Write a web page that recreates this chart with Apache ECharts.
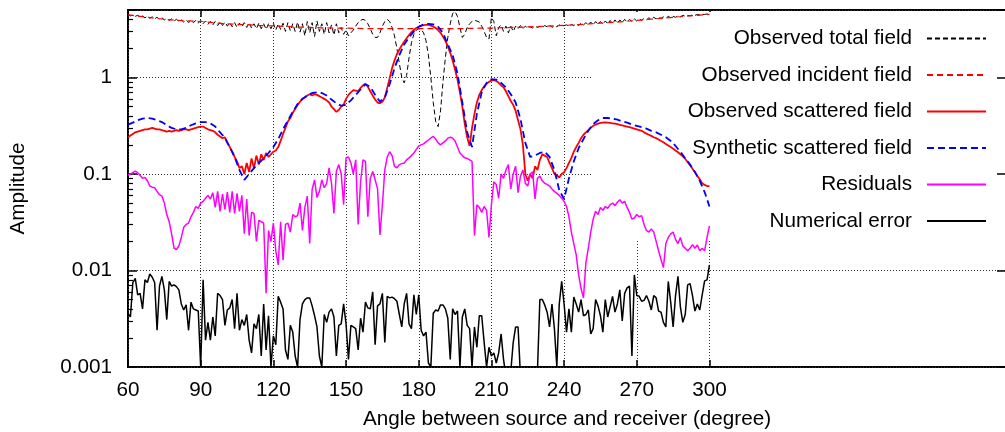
<!DOCTYPE html>
<html><head><meta charset="utf-8">
<script src="https://cdn.jsdelivr.net/npm/echarts@6/dist/echarts.min.js"></script>
<style>html,body{margin:0;padding:0;background:#fff}#c{width:1005px;height:432px}</style>
</head><body><div id="c"></div><script>
// ---- data (angles in degrees, values are amplitudes) ----
const seriesNames = ['Observed total field','Observed incident field','Observed scattered field','Synthetic scattered field','Residuals','Numerical error'];
const xTickLabels = [60, 90, 120, 150, 180, 210, 240, 270, 300];
const yTickLabels = [0.001, 0.01, 0.1, 1];
const yMinorTicks = [0.002,0.003,0.004,0.005,0.006,0.007,0.008,0.009,0.02,0.03,0.04,0.05,0.06,0.07,0.08,0.09,0.2,0.3,0.4,0.5,0.6,0.7,0.8,0.9,2,3,4];

// 1-degree sampled series start at 60 deg
const totalField = [
4.5,4.35,4.45,4.3,4.4,4.25,4.35,4.15,4.3,4.1,
4.25,4.05,4.2,4.0,4.15,3.95,4.1,3.9,4.05,3.85,
4.0,3.8,3.95,3.75,3.95,3.7,3.9,3.7,3.9,3.65,
3.9,3.6,3.85,3.55,3.8,3.5,3.8,3.45,3.75,3.45,
3.75,3.4,3.7,3.35,3.7,3.3,3.65,3.35,3.7,3.3,
3.7,3.25,3.6,3.2,3.65,3.2,3.6,3.15,3.6,3.2,
3.65,3.1,3.6,3.15,3.65,3.0,3.7,3.05,3.6,3.0,
3.75,2.95,3.6,2.7,3.8,2.9,3.7,2.65,3.85,3.0,
3.6,2.8,3.7,2.9,3.5,2.75,3.6,2.9,3.3,2.8,
3.1,2.7,2.9,3.1,3.4,3.7,3.9,4.0,3.9,3.6,
3.2,2.8,2.6,2.6,2.9,3.4,3.8,4.0,3.8,3.3,
2.7,2.0,1.4,1.0,0.88,1.05,1.6,2.3,2.8,3.1,
3.2,3.15,2.9,2.4,1.7,1.0,0.55,0.35,0.31,0.45,
0.9,1.6,2.6,3.6,4.6,4.8,4.3,3.3,2.6,2.8,
3.3,3.6,3.8,3.9,3.85,3.75,3.4,3.0,2.6,2.5,
4.2,3.8,2.7,3.3,3.5,3.0,3.4,2.9,3.4,3.0,
3.4,3.2,3.45,3.2,3.4,3.25,3.35,3.25,3.4,3.3,
3.38,3.3,3.45,3.35,3.5,3.3,3.45,3.35,3.5,3.4,
3.45,3.5,3.42,3.55,3.45,3.6,3.45,3.65,3.5,3.7,
3.5,3.75,3.5,3.8,3.55,3.8,3.55,3.85,3.6,3.9,
3.6,3.95,3.65,3.95,3.7,4.0,3.75,4.0,3.8,4.05,
3.85,4.05,3.9,4.1,3.95,4.15,4.0,4.2,4.05,4.2,
4.1,4.25,4.1,4.3,4.15,4.3,4.2,4.35,4.25,4.4,
4.3,4.4,4.35,4.45,4.4,4.5,4.45,4.5,4.5,4.55,
4.5];

// 5-degree sampled, starts at 60 deg
const incidentField = [4.45,4.3,4.15,4.0,3.9,3.85,3.8,3.7,3.6,3.55,3.5,3.45,3.42,3.38,3.33,3.3,3.27,3.25,3.24,3.22,3.2,3.2,3.2,3.2,3.2,3.2,3.2,3.2,3.22,3.24,3.25,3.28,3.3,3.34,3.38,3.42,3.46,3.52,3.58,3.65,3.72,3.8,3.9,4.0,4.1,4.2,4.3,4.4,4.5];

const scatteredField = [
.24,.25,.26,.27,.275,.28,.285,.29,.29,.295,
.30,.295,.29,.29,.285,.28,.275,.28,.275,.28,
.285,.28,.285,.29,.29,.285,.29,.295,.30,.305,
.31,.31,.30,.29,.285,.28,.27,.255,.245,.235,
.24,.21,.19,.17,.15,.135,.115,.12,.1,.13,
.105,.145,.115,.155,.125,.16,.14,.165,.15,.16,
.17,.175,.19,.22,.26,.3,.35,.38,.43,.47,
.52,.56,.6,.62,.65,.67,.65,.67,.66,.64,
.62,.6,.58,.55,.5,.47,.44,.46,.5,.52,
.6,.66,.7,.74,.73,.72,.78,.83,.86,.8,
.72,.65,.59,.55,.54,.56,.62,.78,.98,1.25,
1.5,1.75,1.95,2.15,2.35,2.55,2.75,2.95,3.1,3.25,
3.35,3.42,3.48,3.5,3.5,3.45,3.38,3.25,3.1,2.9,
2.65,2.4,2.1,1.8,1.5,1.2,.95,.7,.5,.33,
.24,.195,.3,.42,.55,.66,.74,.81,.86,.9,
.93,.94,.92,.88,.83,.79,.72,.64,.57,.52,
.45,.36,.29,.2,.1,.085,.1,.09,.12,.11,
.14,.16,.155,.15,.13,.115,.1,.097,.092,.1,
.104,.115,.13,.147,.17,.19,.21,.235,.255,.27,
.285,.3,.315,.325,.333,.338,.34,.342,.34,.338,
.335,.332,.328,.323,.318,.314,.31,.305,.3,.295,
.29,.285,.28,.27,.262,.255,.248,.24,.235,.228,
.22,.213,.205,.197,.19,.183,.175,.168,.16,.152,
.143,.133,.123,.113,.104,.095,.088,.08,.077,.075,
.075];

// 2-degree sampled, starts at 60 deg
const syntheticField = [
.324,.34,.36,.375,.38,.375,.36,.345,.32,.30,
.29,.29,.30,.32,.335,.345,.345,.335,.31,.27,
.237,.19,.15,.11,.087,.1,.115,.13,.145,.165,
.19,.23,.29,.36,.44,.53,.6,.65,.69,.70,
.69,.65,.59,.54,.51,.52,.58,.66,.75,.85,
.8,.66,.56,.62,.85,1.25,1.7,2.2,2.6,3.0,
3.35,3.55,3.6,3.55,3.35,2.9,2.2,1.7,1.1,.55,
.27,.19,.42,.7,.88,.96,.95,.88,.79,.67,
.55,.37,.21,.15,.155,.165,.17,.15,.11,.068,
.055,.09,.135,.185,.23,.28,.33,.36,.38,.38,
.375,.365,.35,.34,.325,.315,.305,.295,.28,.27,
.255,.24,.22,.195,.17,.145,.125,.105,.085,.065,
.046];

const residuals = [
.098,.1,.103,.107,.103,.097,.09,.092,.085,.075,
.073,.072,.066,.061,.059,.05,.038,.032,.024,.017,
.0165,.018,.022,.028,.03,.031,.036,.04,.046,.044,
.05,.052,.056,.06,.055,.064,.045,.066,.041,.062,
.043,.065,.04,.066,.039,.063,.041,.06,.024,.055,
.023,.04,.039,.02,.033,.032,.031,.0058,.026,.02,
.031,.016,.0114,.032,.0128,.03,.031,.025,.038,.036,
.037,.05,.026,.045,.059,.019,.069,.087,.057,.066,
.087,.072,.08,.116,.08,.039,.106,.125,.1,.048,
.147,.15,.13,.1,.14,.03,.083,.14,.135,.036,
.09,.106,.087,.07,.0234,.048,.11,.15,.17,.155,
.12,.116,.125,.128,.13,.14,.147,.155,.165,.18,
.195,.2,.205,.215,.225,.236,.245,.23,.21,.2,
.21,.22,.235,.24,.235,.22,.19,.165,.155,.147,
.145,.14,.135,.023,.048,.045,.04,.046,.042,.022,
.048,.083,.078,.056,.1,.09,.11,.125,.07,.1,
.12,.064,.095,.11,.08,.075,.1,.105,.055,.09,
.095,.085,.08,.078,.075,.07,.066,.063,.06,.056,
.052,.046,.036,.025,.019,.0145,.009,.0065,.0052,.012,
.017,.025,.034,.041,.038,.045,.042,.046,.044,.048,
.05,.047,.051,.054,.05,.052,.045,.04,.034,.035,
.038,.036,.037,.03,.026,.025,.027,.025,.02,.016,
.013,.0107,.019,.022,.024,.025,.021,.019,.022,.018,
.017,.016,.017,.0185,.017,.0184,.016,.017,.016,.022,
.029];

const numericalError = [
.0036,.0033,.0075,.0083,.0056,.0058,.004,.008,.0075,.0092,
.0085,.0075,.0024,.0069,.0087,.0063,.0031,.0077,.0069,.0071,
.0068,.0063,.0045,.0039,.0044,.0024,.0047,.004,.0039,.0038,
.001,.008,.0019,.0029,.0019,.0033,.0021,.0058,.0055,.005,
.0027,.0039,.0041,.005,.0025,.0058,.0024,.0031,.0027,.0035,
.0019,.0014,.0028,.0025,.0035,.0013,.0045,.0015,.0034,.001,
.0021,.0017,.0054,.0047,.004,.0015,.0012,.0027,.0023,.0013,
.001,.0031,.0045,.005,.0052,.0052,.0043,.0034,.0026,.0013,
.001,.0035,.0029,.0037,.004,.0033,.0013,.0027,.0028,.0045,
.0028,.0012,.0027,.0026,.0025,.0015,.0032,.0023,.0047,.0041,
.004,.006,.0017,.0043,.0045,.0058,.0018,.0054,.0052,.0053,
.0051,.0048,.0035,.0026,.0045,.0058,.0028,.0025,.0056,.0035,
.0056,.0024,.0021,.0023,.0011,.001,.0036,.0039,.0038,.0044,
.0044,.004,.0032,.0012,.004,.0035,.0038,.001,.0033,.004,
.0027,.0025,.001,.0026,.0016,.0034,.0034,.0018,.001,.0016,
.0013,.0014,.0011,.0014,.0022,.0012,.0008,.0008,.0009,.0018,
.0026,.0026,.0008,.0007,.0007,.0007,.0007,.0007,.0008,.0009,
.005,.005,.0044,.0037,.0026,.0045,.0025,.001,.0045,.0077,
.0045,.0023,.004,.0023,.0053,.0045,.0037,.005,.0034,.0035,
.0039,.0022,.0025,.005,.0043,.0034,.0023,.005,.0033,.0042,
.0054,.0037,.0045,.0063,.003,.0058,.0066,.0069,.0013,.009,
.0055,.0054,.0048,.0049,.0055,.0048,.0039,.0055,.0052,.0038,
.0037,.0029,.0026,.0077,.0047,.0026,.0055,.0087,.0042,.0029,
.0035,.0071,.0073,.0055,.0038,.0045,.0039,.0056,.0078,.008,
.0114];

const angleStart = 60;
function pairs(step, vals) { return vals.map((v, i) => [angleStart + i * step, v]); }

const FONT = '"Liberation Sans", Arial, Helvetica, sans-serif';
const FS = 20.7;
const chart = echarts.init(document.getElementById('c'), null, {renderer: 'canvas'});
const dotted = {show: true, lineStyle: {color: '#333', width: 1, type: [1, 2]}};
const fmt = v => { const n = Number(Number(v).toPrecision(1)); return n > 1.5 ? '' : String(n); };

chart.setOption({
  animation: false,
  backgroundColor: '#fff',
  textStyle: {fontFamily: FONT},
  grid: [
    {left: 128, top: 10, width: 878, height: 357, outerBoundsMode: 'none', containLabel: false,
     show: true, borderColor: '#000', borderWidth: 2, backgroundColor: 'transparent'},
    {left: 128, top: 10, width: 581.5, height: 357, outerBoundsMode: 'none', containLabel: false}
  ],
  legend: {
    orient: 'vertical', right: 0, top: 12, align: 'right',
    itemWidth: 59, itemHeight: 14, itemGap: 15.5,
    padding: [16, 18, 9, 96], backgroundColor: '#fff', z: 1,
    itemStyle: {opacity: 0, borderWidth: 0},
    textStyle: {fontFamily: FONT, fontSize: FS, color: '#000', lineHeight: 20, padding: [0, 10, 0, 0]},
    data: seriesNames
  },
  xAxis: [
    {gridIndex: 0, type: 'value', min: 60, max: 422.4, axisLine: {show: false}, axisTick: {show: false},
     axisLabel: {show: false}, splitLine: {show: false},
     name: 'Angle between source and receiver (degree)', nameLocation: 'middle', nameGap: 42,
     nameTextStyle: {fontFamily: FONT, fontSize: FS, color: '#000'}},
    {gridIndex: 1, type: 'value', min: 60, max: 300, interval: 30, position: 'bottom',
     axisLine: {show: false}, axisTick: {show: true, inside: true, length: 7, lineStyle: {color: '#000', width: 1.5}},
     axisLabel: {margin: 13, fontFamily: FONT, fontSize: FS, color: '#000'}, splitLine: dotted},
    {gridIndex: 1, type: 'value', min: 60, max: 300, interval: 30, position: 'top',
     axisLine: {show: false}, axisTick: {show: true, inside: true, length: 7, lineStyle: {color: '#000', width: 1.5}},
     axisLabel: {show: false}, splitLine: {show: false}}
  ],
  yAxis: [
    {gridIndex: 0, type: 'log', logBase: 10, min: 0.001, max: 5, position: 'left',
     axisLine: {show: false}, axisTick: {show: true, inside: true, length: 9, lineStyle: {color: '#000', width: 1.5}},
     axisLabel: {margin: 16, fontFamily: FONT, fontSize: FS, color: '#000', formatter: fmt},
     splitLine: dotted,
     name: 'Amplitude', nameLocation: 'middle', nameRotate: 90, nameGap: 99,
     nameTextStyle: {fontFamily: FONT, fontSize: FS, color: '#000'}},
    {gridIndex: 0, type: 'log', logBase: 10, min: 0.001, max: 5, position: 'left',
     axisLine: {show: false}, axisLabel: {show: false}, splitLine: {show: false},
     axisTick: {show: true, inside: true, length: 5, customValues: yMinorTicks, lineStyle: {color: '#000', width: 1.2}}},
    {gridIndex: 0, type: 'log', logBase: 10, min: 0.001, max: 5, position: 'right', z: 3,
     axisLine: {show: false}, axisLabel: {show: false}, splitLine: {show: false},
     axisTick: {show: true, inside: true, length: 9, lineStyle: {color: '#000', width: 1.5}}},
    {gridIndex: 1, type: 'value', min: 0, max: 1, show: false}
  ],
  series: [
    {name: seriesNames[0], type: 'line', data: pairs(1, totalField), symbol: 'none', z: 2,
     lineStyle: {color: '#000', width: 1, type: [5, 3]}, itemStyle: {color: '#000'}},
    {name: seriesNames[1], type: 'line', data: pairs(5, incidentField), symbol: 'none', z: 2,
     lineStyle: {color: '#ff0000', width: 1.2, type: [6, 4]}, itemStyle: {color: '#ff0000'}},
    {name: seriesNames[2], type: 'line', data: pairs(1, scatteredField), symbol: 'none', z: 2,
     lineStyle: {color: '#ff0000', width: 1.8}, itemStyle: {color: '#ff0000'}},
    {name: seriesNames[3], type: 'line', data: pairs(2, syntheticField), symbol: 'none', z: 2,
     lineStyle: {color: '#0000ff', width: 1.8, type: [7, 4]}, itemStyle: {color: '#0000ff'}},
    {name: seriesNames[4], type: 'line', data: pairs(1, residuals), symbol: 'none', z: 2,
     lineStyle: {color: '#ff00ff', width: 1.5}, itemStyle: {color: '#ff00ff'}},
    {name: seriesNames[5], type: 'line', data: pairs(1, numericalError), symbol: 'none', z: 2,
     lineStyle: {color: '#000', width: 1.5}, itemStyle: {color: '#000'}}
  ]
});
</script></body></html>
